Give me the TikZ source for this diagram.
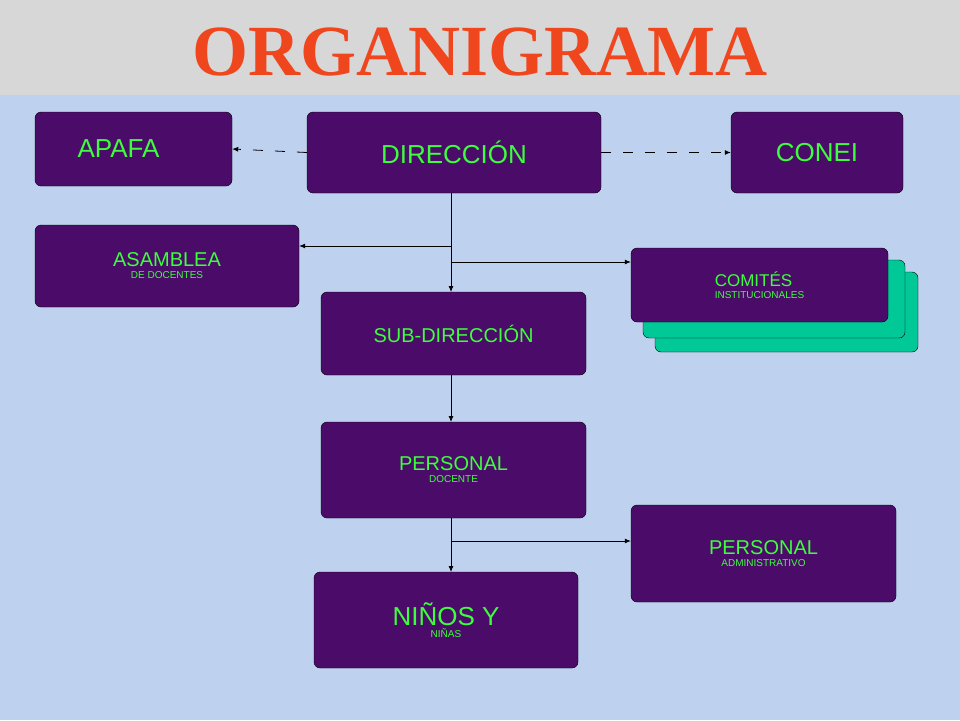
\documentclass[tikz,border=0pt]{standalone}
\usepackage{fontspec}
\setmainfont{Liberation Sans}
\newfontfamily\titlefont{Liberation Serif}
\usetikzlibrary{positioning,arrows.meta}
\definecolor{boxpurple}{RGB}{75,12,105}
\definecolor{boxgreen}{RGB}{60,255,60}
\definecolor{skyblue}{RGB}{190,210,240}
\definecolor{marble}{RGB}{215,215,215}
\definecolor{titlered}{RGB}{240,70,30}
\definecolor{teal}{RGB}{0,200,150}
\tikzset{
  orgbox/.style={draw=black, fill=boxpurple, rounded corners=6pt, text=boxgreen, align=center, inner sep=0pt},
  link/.style={-{Latex[length=6pt,width=5pt]}, line width=0.8pt},
  dashlink/.style={link, dash pattern=on 10pt off 12pt}
}
\begin{document}
\begin{tikzpicture}[x=1pt,y=-1pt]
    % background
    \fill[skyblue] (0,0) rectangle (960,720);
    \fill[marble] (0,0) rectangle (960,95);
    \useasboundingbox (0,0) rectangle (960,720);
    % title
    \node (title) at (480,52) {\titlefont\bfseries\fontsize{72}{72}\selectfont\color{titlered}ORGANIGRAMA};

    % committee stack
    \draw[fill=teal, rounded corners=6pt] (655,272) rectangle (918,352);
    \draw[fill=teal, rounded corners=6pt] (643,260) rectangle (905,338);

    % boxes
    \node[orgbox, minimum width=197, minimum height=74] (apafa) at (133.5,149) {\fontsize{26}{30}\selectfont\hspace*{-30pt}APAFA};
    \node[orgbox, minimum width=294, minimum height=81] (dir) at (454,152.5) {\fontsize{26}{30}\selectfont DIRECCIÓN};
    \node[orgbox, minimum width=172, minimum height=81] (conei) at (817,152.5) {\fontsize{26}{30}\selectfont CONEI};
    \node[orgbox, minimum width=264, minimum height=82] (asamblea) at (167,266) {\fontsize{20}{26}\selectfont ASAMBLEA\\ DE DOCENTES};
    \node[orgbox, minimum width=257, minimum height=74, align=left] (comites) at (759.5,285) {\fontsize{17}{22}\selectfont COMITÉS\\ INSTITUCIONALES};
    \node[orgbox, minimum width=265, minimum height=83] (subdir) at (453.5,333.5) {\fontsize{20}{24}\selectfont SUB-DIRECCIÓN};
    \node[orgbox, minimum width=265, minimum height=96] (docente) at (453.5,470) {\fontsize{20}{28}\selectfont PERSONAL\\ DOCENTE};
    \node[orgbox, minimum width=265, minimum height=97] (admin) at (763.5,553.5) {\fontsize{20}{28}\selectfont PERSONAL\\ ADMINISTRATIVO};
    \node[orgbox, minimum width=264, minimum height=96] (ninos) at (446,620) {\fontsize{26}{36}\selectfont NIÑOS Y\\ NIÑAS};

    % connectors
    \draw[dashlink] (dir.west) -- (apafa.east);
    \draw[dashlink] (dir.east) -- (conei.west);
    \coordinate (top) at (451,193);
    \coordinate (jA) at (451,246);
    \coordinate (jC) at (451,262);
    \draw[link] (top) -- (451,292);
    \draw[link] (jA) -- (asamblea.east |- jA);
    \draw[link] (jC) -- (comites.west |- jC);
    \draw[link] (451,375) -- (451,422);
    \coordinate (jD) at (451,541);
    \draw[link] (451,518) -- (451,572);
    \draw[link] (jD) -- (admin.west |- jD);
\end{tikzpicture}
\end{document}
